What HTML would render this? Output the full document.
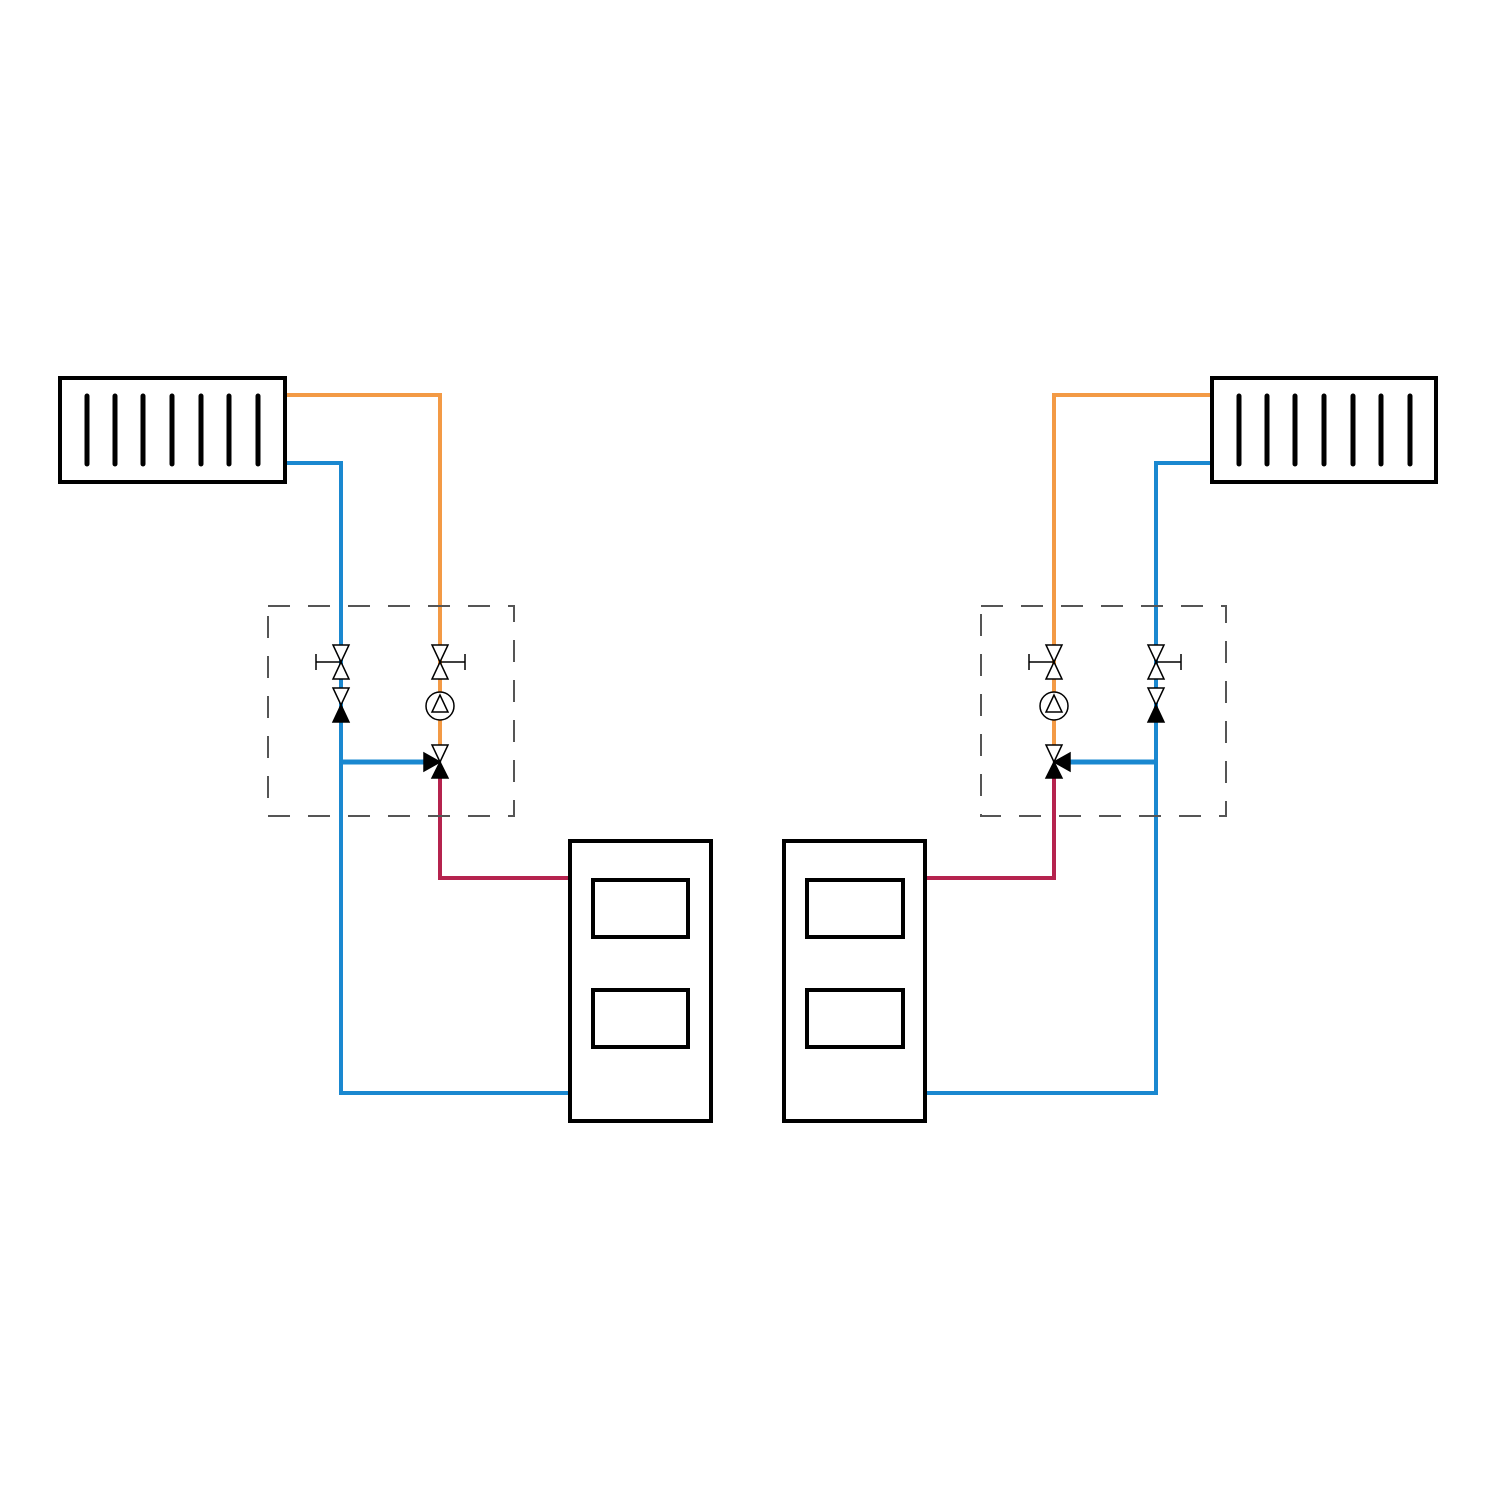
<!DOCTYPE html>
<html><head><style>html,body{margin:0;padding:0;background:#fff}</style></head><body>
<svg width="1500" height="1500" viewBox="0 0 1500 1500" xmlns="http://www.w3.org/2000/svg">
<rect width="1500" height="1500" fill="#fff"/>
<g fill="none" stroke-width="4">
<!-- left pipes -->
<polyline points="285,395 440,395 440,745" stroke="#f39a45"/>
<polyline points="285,463 341,463 341,1093 570,1093" stroke="#1a88d0"/>
<line x1="341" y1="762" x2="426" y2="762" stroke="#1a88d0" stroke-width="5"/>
<polyline points="440,778 440,878 570,878" stroke="#b5234e"/>
<!-- right pipes -->
<polyline points="1212,395 1054,395 1054,745" stroke="#f39a45"/>
<polyline points="1212,463 1156,463 1156,1093 925,1093" stroke="#1a88d0"/>
<line x1="1156" y1="762" x2="1068" y2="762" stroke="#1a88d0" stroke-width="5"/>
<polyline points="1054,778 1054,878 925,878" stroke="#b5234e"/>
</g>
<!-- dashed boxes -->
<g fill="none" stroke="#555" stroke-width="2" stroke-dasharray="22,18">
<rect x="268" y="606" width="246" height="210"/>
<rect x="981" y="606" width="245" height="210"/>
</g>
<!-- radiators -->
<g stroke="#000" fill="#fff">
<rect x="60" y="378" width="225" height="104" stroke-width="4"/>
<rect x="1212" y="378" width="224" height="104" stroke-width="4"/>
<g stroke-width="5" stroke-linecap="round">
<line x1="87" y1="396" x2="87" y2="464"/><line x1="115" y1="396" x2="115" y2="464"/><line x1="143" y1="396" x2="143" y2="464"/><line x1="172" y1="396" x2="172" y2="464"/><line x1="201" y1="396" x2="201" y2="464"/><line x1="229" y1="396" x2="229" y2="464"/><line x1="258" y1="396" x2="258" y2="464"/>
<line x1="1239" y1="396" x2="1239" y2="464"/><line x1="1267" y1="396" x2="1267" y2="464"/><line x1="1295" y1="396" x2="1295" y2="464"/><line x1="1324" y1="396" x2="1324" y2="464"/><line x1="1353" y1="396" x2="1353" y2="464"/><line x1="1381" y1="396" x2="1381" y2="464"/><line x1="1410" y1="396" x2="1410" y2="464"/>
</g>
<!-- boilers -->
<rect x="570" y="841" width="141" height="280" stroke-width="4"/>
<rect x="593" y="880" width="95" height="57" stroke-width="4"/>
<rect x="593" y="990" width="95" height="57" stroke-width="4"/>
<rect x="784" y="841" width="141" height="280" stroke-width="4"/>
<rect x="807" y="880" width="96" height="57" stroke-width="4"/>
<rect x="807" y="990" width="96" height="57" stroke-width="4"/>
</g>
<!-- valves -->
<g stroke="#000" stroke-width="1.5" fill="#fff">
<!-- left blue gate + check -->
<polygon points="333,645 349,645 341,662"/><polygon points="333,679 349,679 341,662"/>
<line x1="341" y1="662" x2="316" y2="662"/><line x1="316" y1="654" x2="316" y2="670"/>
<polygon points="333,688 349,688 341,705"/><polygon points="333,722 349,722 341,705" fill="#000"/>
<!-- left orange gate, pump, 3-way -->
<polygon points="432,645 448,645 440,662"/><polygon points="432,679 448,679 440,662"/>
<line x1="440" y1="662" x2="465" y2="662"/><line x1="465" y1="654" x2="465" y2="670"/>
<circle cx="440" cy="706" r="14"/><polygon points="440,695 432,712 448,712"/>
<polygon points="432,745 448,745 440,762"/><polygon points="432,778 448,778 440,762" fill="#000"/>
<polygon points="424,753 424,771 440,762" fill="#000"/>
<!-- right orange gate, pump, 3-way -->
<polygon points="1046,645 1062,645 1054,662"/><polygon points="1046,679 1062,679 1054,662"/>
<line x1="1054" y1="662" x2="1029" y2="662"/><line x1="1029" y1="654" x2="1029" y2="670"/>
<circle cx="1054" cy="706" r="14"/><polygon points="1054,695 1046,712 1062,712"/>
<polygon points="1046,745 1062,745 1054,762"/><polygon points="1046,778 1062,778 1054,762" fill="#000"/>
<polygon points="1070,753 1070,771 1054,762" fill="#000"/>
<!-- right blue gate + check -->
<polygon points="1148,645 1164,645 1156,662"/><polygon points="1148,679 1164,679 1156,662"/>
<line x1="1156" y1="662" x2="1181" y2="662"/><line x1="1181" y1="654" x2="1181" y2="670"/>
<polygon points="1148,688 1164,688 1156,705"/><polygon points="1148,722 1164,722 1156,705" fill="#000"/>
</g>
</svg>
</body></html>
